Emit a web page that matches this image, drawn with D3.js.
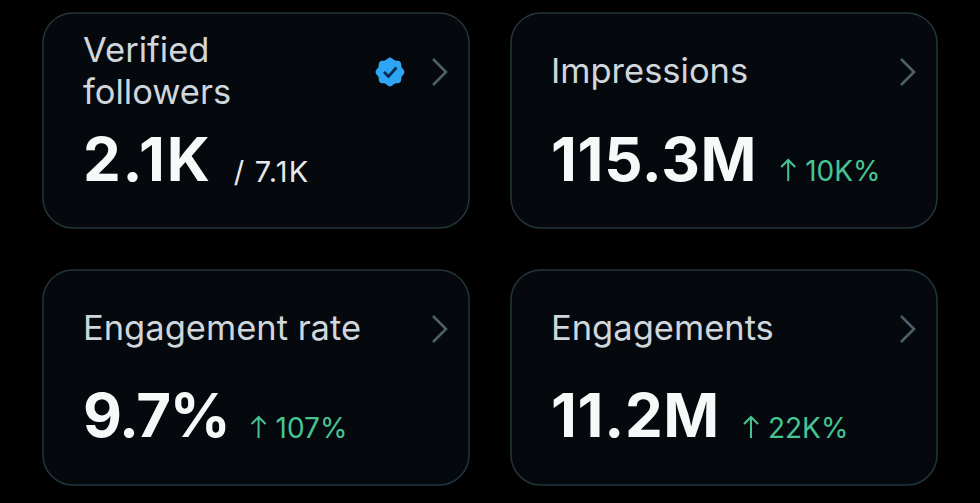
<!DOCTYPE html>
<html>
<head>
<meta charset="utf-8">
<style>
    html, body { margin: 0; padding: 0; background: #000; }
    svg { display: block; }
    text { font-family: Inter, "Liberation Sans", Arial, sans-serif; }
</style>
<script src="https://cdn.jsdelivr.net/npm/d3@7/dist/d3.min.js"></script>
</head>
<body>
<svg id="Cards"></svg>
<script>
    let titles = [["Verified", "followers"], ["Impressions"], ["Engagement rate"], ["Engagements"]];
    let values = ["2.1K", "115.3M", "9.7%", "11.2M"];
    let totals = ["/ 7.1K", null, null, null];
    let changes = [null, "10K%", "107%", "22K%"];
    let verified = [true, false, false, false];

    let width = 980;
    let height = 503;
    let container = d3.select("#Cards").attr("width", width).attr("height", height);

    // two by two grid of cards
    let xScale = d3.scaleBand().domain([0, 1]).range([43, 937]).paddingInner(42 / 468);
    let yScale = d3.scaleBand().domain([0, 1]).range([13, 485]).paddingInner(42 / 257);

    let cards = container.selectAll(".card")
        .data(values.map((d, i) => i))
        .enter()
        .append("g")
        .attr("class", "card")
        .attr("transform", i => `translate(${xScale(i % 2)},${yScale(Math.floor(i / 2))})`);

    cards.append("rect")
        .attr("width", xScale.bandwidth())
        .attr("height", yScale.bandwidth())
        .attr("rx", 30)
        .attr("fill", "#05090d")
        .attr("stroke", "#22363d")
        .attr("stroke-width", 1.5);

    // title, one or two lines
    cards.each(function (i) {
        let card = d3.select(this);
        let lines = titles[i];
        lines.forEach((line, n) => {
            card.append("text")
                .attr("x", 40)
                .attr("y", lines.length > 1 ? 48.5 + n * 42 : 70)
                .attr("font-size", 34.5)
                .attr("fill", "#cfd6dc")
                .text(line);
        });

        let value = card.append("text")
            .attr("x", 40)
            .attr("y", i > 1 ? 167 : 168)
            .attr("font-size", 60)
            .attr("font-weight", 700)
            .attr("letter-spacing", i === 2 ? -1.25 : i === 0 ? 1.8 : 0.7)
            .attr("fill", "#f7f9f9")
            .text(values[i]);
        let valueEnd = 40 + value.node().getComputedTextLength();

        if (totals[i]) {
            card.append("text")
                .attr("x", valueEnd + 22)
                .attr("y", 169)
                .attr("font-size", 29)
                .attr("letter-spacing", 1.2)
                .attr("fill", "#e7e9ea")
                .text(totals[i]);
        }

        if (changes[i]) {
            let arrowX = valueEnd + (i === 2 ? 29 : 31);
            let arrowY = 168;
            let arrow = d3.path();
            arrow.moveTo(arrowX, arrowY);
            arrow.lineTo(arrowX, arrowY - 21);
            arrow.moveTo(arrowX - 7, arrowY - 14);
            arrow.lineTo(arrowX, arrowY - 21);
            arrow.lineTo(arrowX + 7, arrowY - 14);
            card.append("path")
                .attr("d", arrow.toString())
                .attr("fill", "none")
                .attr("stroke", "#46c494")
                .attr("stroke-width", 2);
            card.append("text")
                .attr("x", arrowX + 17)
                .attr("y", arrowY)
                .attr("font-size", 28)
                .attr("fill", "#46c494")
                .text(changes[i]);
        }

        // chevron
        let chevY = 59;
        let chev = d3.path();
        chev.moveTo(390, chevY - 13);
        chev.lineTo(403, chevY);
        chev.lineTo(390, chevY + 13);
        card.append("path")
            .attr("d", chev.toString())
            .attr("fill", "none")
            .attr("stroke", "#4d5f69")
            .attr("stroke-width", 2.6);

        if (verified[i]) {
            // scalloped badge with a tick
            let badge = d3.lineRadial()
                .angle(d => d)
                .radius(d => 13.5 + 0.9 * Math.cos(d * 8))
                .curve(d3.curveCardinalClosed);
            let badgeGroup = card.append("g").attr("transform", "translate(347,59)");
            badgeGroup.append("path")
                .attr("d", badge(d3.range(0, 2 * Math.PI, Math.PI / 32)))
                .attr("fill", "#2ea6f5");
            let tick = d3.path();
            tick.moveTo(-6, 0);
            tick.lineTo(-1.5, 4.5);
            tick.lineTo(6.5, -4.5);
            badgeGroup.append("path")
                .attr("d", tick.toString())
                .attr("fill", "none")
                .attr("stroke", "#0a2a55")
                .attr("stroke-width", 2.8);
        }
    });
</script>
</body>
</html>
